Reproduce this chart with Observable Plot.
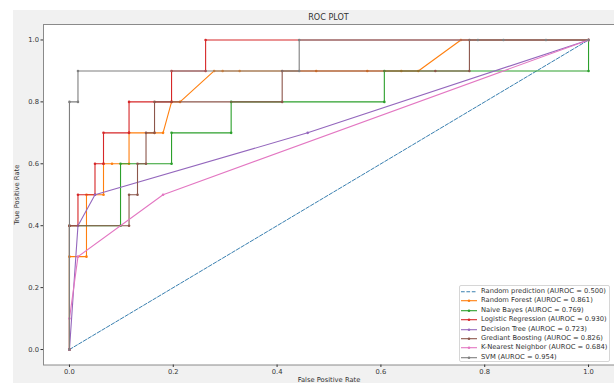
<!DOCTYPE html>
<html>
<head>
<meta charset="utf-8">
<script src="https://cdn.jsdelivr.net/npm/d3@7"></script>
<script src="https://cdn.jsdelivr.net/npm/@observablehq/plot@0.6"></script>
<style>
  html, body { margin: 0; padding: 0; background: #fff; }
  #fig { position: relative; width: 614px; height: 383px; overflow: hidden; background: #fff;
         font-family: "DejaVu Sans", sans-serif; }
  #bg { position: absolute; left: 13px; top: 10px; right: 0; bottom: 0; background: #f1f1f1; }
  #chart { position: absolute; left: 0; top: 0; }
  #title { position: absolute; left: 43px; width: 571px; top: 12px; text-align: center;
           font-size: 8.1px; line-height: 10px; color: #333; }
  #legend { position: absolute; left: 459px; top: 285px; width: 151px; height: 77px;
            background: #fff; border: 1px solid #d6d6d6; border-radius: 2px; box-sizing: border-box; }
  #legend .row { position: absolute; left: 0; height: 9.4px; line-height: 9.4px; white-space: nowrap;
                 font-size: 6.75px; color: #333; }
  #legend svg { position: absolute; left: 1px; top: 0; }
  #legend span { position: absolute; left: 21px; top: 0; }
</style>
</head>
<body>
<div id="fig">
  <div id="bg"></div>
  <div id="chart"></div>
  <div id="title">ROC PLOT</div>
  <div id="legend"></div>
</div>
<script>
// ROC curves of eight classifiers on a test set with 10 positives and 61 negatives.
const modelNames = ["Random prediction", "Random Forest", "Naive Bayes", "Logistic Regression",
  "Decision Tree", "Grediant Boosting", "K-Nearest Neighbor", "SVM"];
const aurocs = [0.500, 0.861, 0.769, 0.930, 0.723, 0.826, 0.684, 0.954];

const randomFpr = [0, 1];
const randomTpr = [0, 1];

const forestFpr = [0, 0, 0.0328, 0.0328, 0.0656, 0.0656, 0.0820, 0.1148, 0.1148, 0.1639, 0.1803, 0.1967,
  0.2131, 0.2787, 0.2951, 0.3279, 0.4754, 0.5738, 0.6393, 0.6721, 0.7541, 1];
const forestTpr = [0, 0.3, 0.3, 0.5, 0.5, 0.6, 0.6, 0.6, 0.7, 0.7, 0.7, 0.8,
  0.8, 0.9, 0.9, 0.9, 0.9, 0.9, 0.9, 0.9, 1.0, 1.0];

const bayesFpr = [0, 0, 0.0984, 0.0984, 0.1967, 0.1967, 0.3115, 0.3115, 0.6066, 0.6066, 1, 1];
const bayesTpr = [0, 0.4, 0.4, 0.6, 0.6, 0.7, 0.7, 0.8, 0.8, 0.9, 0.9, 1.0];

const logisticFpr = [0, 0, 0.0164, 0.0164, 0.0492, 0.0492, 0.0656, 0.0656, 0.1148, 0.1148, 0.1967, 0.1967,
  0.2623, 0.2623, 1];
const logisticTpr = [0, 0.4, 0.4, 0.5, 0.5, 0.6, 0.6, 0.7, 0.7, 0.8, 0.8, 0.9, 0.9, 1.0, 1.0];

const treeFpr = [0, 0.0164, 0.0492, 0.4590, 1];
const treeTpr = [0, 0.4, 0.5, 0.7, 1.0];

const boostingFpr = [0, 0, 0.1148, 0.1148, 0.1311, 0.1311, 0.1475, 0.1475, 0.1639, 0.1639, 0.4098, 0.4098,
  0.7049, 0.7705, 0.7705, 1];
const boostingTpr = [0, 0.4, 0.4, 0.5, 0.5, 0.6, 0.6, 0.7, 0.7, 0.8, 0.8, 0.9, 0.9, 0.9, 1.0, 1.0];

const knnFpr = [0, 0, 0.0164, 0.1803, 1];
const knnTpr = [0, 0.1, 0.3, 0.5, 1.0];

const svmFpr = [0, 0, 0.0164, 0.0164, 0.4426, 0.4426, 0.7869, 0.8361, 0.9180, 1];
const svmTpr = [0, 0.8, 0.8, 0.9, 0.9, 1.0, 1.0, 1.0, 1.0, 1.0];

const axisTicks = [0, 0.2, 0.4, 0.6, 0.8, 1.0];

// matplotlib tab10 palette, one colour per curve
const palette = ["#3a80b0", "#ff7f0e", "#2ca02c", "#d62728", "#9467bd", "#8c564b", "#e377c2", "#7f7f7f"];

const curves = [
  [randomFpr, randomTpr], [forestFpr, forestTpr], [bayesFpr, bayesTpr], [logisticFpr, logisticTpr],
  [treeFpr, treeTpr], [boostingFpr, boostingTpr], [knnFpr, knnTpr], [svmFpr, svmTpr]
].map(([fpr, tpr], i) => fpr.map((x, j) => ({model: modelNames[i], fpr: x, tpr: tpr[j]})));

const curveMarks = curves.flatMap((rows, i) => {
  if (i === 0) {
    return [Plot.line(rows, {x: "fpr", y: "tpr", stroke: palette[0], strokeWidth: 1, strokeDasharray: "3.7,1.7"})];
  }
  return [
    Plot.line(rows, {x: "fpr", y: "tpr", stroke: palette[i], strokeWidth: 1.1}),
    Plot.dot(rows, {x: "fpr", y: "tpr", fill: palette[i], r: 1.3})
  ];
});

const chart = Plot.plot({
  width: 614,
  height: 383,
  marginLeft: 43,
  marginRight: 0,
  marginTop: 24,
  marginBottom: 18.5,
  style: {background: "transparent", fontFamily: "DejaVu Sans, sans-serif", fontSize: "6.75px", color: "#333", overflow: "visible"},
  x: {domain: [-0.05, 1.05]},
  y: {domain: [-0.05, 1.05]},
  marks: [
    Plot.frame({fill: "white", stroke: "none"}),
    ...curveMarks,
    Plot.frame({stroke: "#8a8a8a", strokeWidth: 1}),
    Plot.axisX({ticks: axisTicks, tickFormat: d3.format(".1f"), tickSize: 2.5, tickPadding: 2,
      label: "False Positive Rate", labelAnchor: "center", labelOffset: 17, labelArrow: "none"}),
    Plot.axisY({ticks: axisTicks, tickFormat: d3.format(".1f"), tickSize: 2.5, tickPadding: 2,
      label: "True Positive Rate", labelAnchor: "center", labelOffset: 29, labelArrow: "none"})
  ]
});
document.getElementById("chart").append(chart);

// legend: line handle with a dot marker, then the label with its AUROC
const legend = document.getElementById("legend");
modelNames.forEach((name, i) => {
  const row = document.createElement("div");
  row.className = "row";
  row.style.top = (0.8 + i * 9.43) + "px";
  const dash = i === 0 ? ' stroke-dasharray="3.7,1.7"' : "";
  const dot = i === 0 ? "" : `<circle cx="8" cy="4.7" r="1.3" fill="${palette[i]}"/>`;
  row.innerHTML = `<svg width="17" height="9.4"><line x1="0" x2="16" y1="4.7" y2="4.7" stroke="${palette[i]}" stroke-width="1.1"${dash}/>${dot}</svg>` +
    `<span>${name} (AUROC = ${aurocs[i].toFixed(3)})</span>`;
  legend.append(row);
});
</script>
</body>
</html>
